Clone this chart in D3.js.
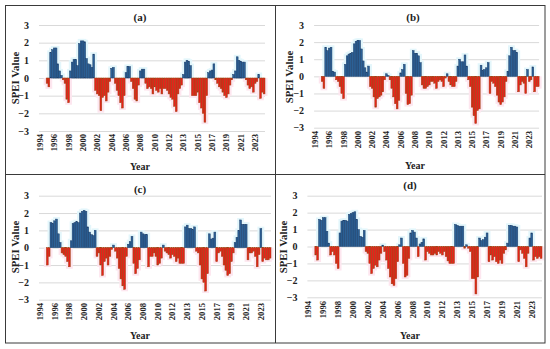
<!DOCTYPE html>
<html><head><meta charset="utf-8">
<script src="https://cdn.jsdelivr.net/npm/d3@7"></script>
<style>
html,body{margin:0;padding:0;background:#fff;}
svg{display:block;}
text{font-family:"Liberation Serif","Times New Roman",serif;font-weight:bold;fill:#222;}
</style></head>
<body>
<svg id="chart" width="550" height="349"></svg>
<script>
// ---- data (quarterly SPEI, first value at quarter index 4) ----
const nQuarters = 126;
const firstQuarter = 4;
const tickLabels = ["1994","1996","1998","2000","2002","2004","2006","2008","2010","2012","2013","2015","2017","2019","2021","2023"];
const tickStep = 8;
const yTicks = [3,2,1,0,-1,-2,-3];

const speiA = [-0.3,-0.5,1.45,1.6,1.7,1.7,0.8,0.4,0.15,-0.1,-0.3,-1.2,-1.4,0.4,0.9,1.05,1.05,0.7,1.95,2.1,2.1,2.05,1.1,0.8,0.75,0.6,1.35,
 -0.7,-0.9,-1.0,-1.85,-1.1,-1.0,-1.3,-0.8,-0.2,0.55,0.6,-0.3,-0.7,-1.0,-1.4,-1.7,-1.0,0.3,0.65,0.65,-0.2,-0.6,-1.2,-1.3,-0.4,0.4,0.5,0.5,
 -0.3,-0.6,-0.5,-0.6,-0.9,-0.5,-0.7,-0.8,-0.6,-0.9,-0.6,-0.6,-0.7,-0.9,-1.1,-1.2,-1.6,-1.9,-0.9,-0.6,-0.4,0.2,0.9,1.0,0.95,0.7,
 -1.0,-1.0,-1.0,-0.8,-1.4,-1.7,-2.0,-2.5,-1.0,0.3,0.4,0.45,0.8,-0.1,-0.3,-0.5,-0.6,-0.8,-1.0,-1.1,-0.9,-0.4,-0.1,0.2,0.4,1.2,1.0,0.95,0.9,0.9,
 -0.1,-0.4,-0.6,-0.5,-0.8,-0.3,-0.2,0.2,-1.15,-0.8,-0.9];
const speiB = [-0.3,-0.7,1.7,1.5,1.65,1.7,0.3,0.25,-0.2,-0.3,-0.6,-1.0,-1.3,0.7,1.2,1.3,1.35,1.4,1.9,2.05,2.1,2.1,1.6,0.9,0.5,0.25,0.6,
 -0.6,-0.7,-1.2,-1.8,-1.3,-1.2,-1.1,-0.9,-0.2,0.15,0.05,-0.2,-0.7,-1.2,-1.6,-1.9,-1.4,0.2,0.4,0.7,-1.0,-1.65,-1.6,-1.1,1.5,1.35,1.35,1.2,0.8,
 -0.5,-0.7,-0.7,-0.6,-0.5,-0.3,-0.3,-0.4,-0.7,-0.3,-0.2,-0.3,-0.6,-0.1,0.15,-0.3,-0.5,-0.6,-0.6,-0.3,0.6,1.0,0.85,0.85,1.25,0.6,
 -0.2,-0.6,-1.8,-2.3,-2.75,-2.0,-1.9,0.65,0.35,0.4,0.5,0.8,-1.0,-0.3,-0.4,-0.6,-1.1,-1.5,-1.65,-1.5,-1.2,-0.3,0.3,1.2,1.7,1.5,1.5,1.4,
 -0.9,-0.5,-0.3,-0.4,-1.0,0.4,-0.3,-0.2,0.55,-0.9,-0.6,-0.6];
const speiC = [-1.0,-0.5,1.45,1.4,1.55,1.65,0.8,0.3,-0.3,-0.4,-0.5,-0.8,-1.1,0.4,1.4,1.45,1.5,1.45,2.0,2.1,2.15,2.1,1.2,0.9,0.75,0.7,1.0,
 -0.5,-0.3,-1.0,-1.6,-0.8,-0.6,-1.0,-0.5,-0.1,0.15,-0.2,-0.6,-1.2,-1.8,-2.2,-2.4,-0.5,0.2,0.35,0.65,-0.9,-1.5,-1.2,-0.7,0.9,0.8,0.75,0.75,
 -1.1,-0.5,-0.5,-0.3,-0.5,-1.0,-0.9,-0.6,0.15,-0.2,-0.3,-0.4,-0.6,-0.4,-0.5,-0.8,-0.6,-0.9,-0.9,-0.9,1.2,1.3,1.1,1.1,1.05,1.2,
 -0.2,-0.3,-1.0,-1.8,-2.0,-2.5,-1.5,0.8,0.5,0.55,0.9,-0.8,-0.3,-0.2,-0.5,-1.0,-1.3,-1.6,-1.5,-0.8,-0.3,0.3,0.6,1.0,1.6,1.35,1.35,1.35,
 -0.7,-0.3,-0.3,-0.2,-0.5,-1.1,-0.4,1.1,-0.8,-0.6,-0.7,-0.7,-0.6];
const speiD = [-0.5,-0.8,1.6,1.55,1.7,1.7,0.9,0.2,-0.5,-0.3,-0.5,-1.0,-1.3,0.8,1.5,1.55,1.55,1.5,1.9,1.95,2.0,2.05,1.6,1.0,0.6,0.55,0.95,
 -0.3,-0.4,-1.0,-1.6,-1.3,-1.1,-1.2,-0.8,-0.4,0.08,-0.3,-0.8,-1.3,-1.8,-2.2,-2.3,-1.9,-0.9,0.1,0.5,-1.0,-1.8,-1.7,-0.7,0.8,0.95,0.85,0.5,
 -0.6,0.15,0.25,0.45,-0.8,-0.3,-0.4,-0.5,-0.5,-0.4,-0.5,-0.3,-0.4,-0.5,-0.3,-0.6,-0.85,-1.0,-1.0,-1.0,1.3,1.25,1.2,1.2,1.2,
 -0.1,0.1,-0.1,-0.3,-1.9,-1.9,-2.8,-1.8,0.5,0.35,0.4,0.55,0.8,-0.9,-0.5,-0.8,-0.6,-0.9,-1.0,-0.8,-1.0,-0.4,-0.2,0.2,1.25,1.25,1.2,1.2,1.15,
 -0.9,-0.2,-0.4,-0.7,-1.2,-0.4,0.5,0.8,-0.8,-0.6,-0.7,-0.6,-0.7];

// ---- layout ----
const panels = [
  {name:"(a)", values:speiA, l:39,    r:265,   t:25,    b:131,   title:[140,16.5], ylab:[15,78],  year:[140,166.5], xlab:134},
  {name:"(b)", values:speiB, l:314.1, r:539.1, t:25,    b:127.7, title:[413,16.5], ylab:[289,77], year:[415,165],   xlab:131},
  {name:"(c)", values:speiC, l:39,    r:271,   t:195.7, b:299.7, title:[140,189],  ylab:[15,247], year:[140,335.7], xlab:303},
  {name:"(d)", values:speiD, l:307.4, r:542,   t:195.7, b:297.3, title:[410,185],  ylab:[283,247],year:[410,335.7], xlab:301}
];

const svg = d3.select("#chart");
svg.append("rect").attr("width",550).attr("height",349).attr("fill","#fff");

panels.forEach(p => {
  const g = svg.append("g");
  const x = d3.scaleBand().domain(d3.range(nQuarters)).range([p.l, p.r]).padding(0);
  const y = d3.scaleLinear().domain([-3,3]).range([p.b, p.t]);
  const data = p.values.map((v,i) => ({q: i + firstQuarter, v}));

  // gridlines + y labels
  const yAxis = d3.axisLeft(y).tickValues(yTicks).tickSize(-(p.r - p.l)).tickPadding(10).tickFormat(d3.format("d"));
  const ya = g.append("g").attr("transform",`translate(${p.l},0)`).call(yAxis);
  ya.select(".domain").remove();
  ya.selectAll("line").attr("stroke","#d9d9d9").attr("stroke-width",1);
  ya.selectAll("text").attr("font-size",10).attr("fill","#222")
    .attr("font-family","'Liberation Serif',serif").attr("font-weight","bold").attr("x",-10);

  // soft halo (compression tint in the original)
  g.append("g").selectAll("rect").data(data).join("rect")
    .attr("x", d => x(d.q) - 2.5)
    .attr("width", x.bandwidth() + 5)
    .attr("y", d => d.v >= 0 ? y(d.v) - 2 : y(0))
    .attr("height", d => Math.abs(y(d.v) - y(0)) + 2)
    .attr("fill", d => d.v >= 0 ? "#e3f6fb" : "#fde6ef");

  // bars
  g.append("g").selectAll("rect").data(data).join("rect")
    .attr("x", d => x(d.q))
    .attr("width", x.bandwidth())
    .attr("y", d => d.v >= 0 ? y(d.v) : y(0))
    .attr("height", d => Math.abs(y(d.v) - y(0)))
    .attr("fill", d => d.v >= 0 ? "#2c6196" : "#e8201a")
    .attr("stroke", d => d.v >= 0 ? "#1d3f6b" : "#9a4412")
    .attr("stroke-width", 0.5);

  // x labels (rotated)
  const tickIdx = tickLabels.map((_,i) => i * tickStep);
  g.append("g").selectAll("text").data(tickIdx).join("text")
    .attr("transform", d => `translate(${x(d) + x.bandwidth()/2},${p.xlab}) rotate(-90)`)
    .attr("text-anchor","end").attr("dominant-baseline","central")
    .attr("font-size",8.6)
    .text(d => tickLabels[d / tickStep]);

  // titles
  g.append("text").attr("x",p.title[0]).attr("y",p.title[1]).attr("text-anchor","middle")
    .attr("dominant-baseline","central").attr("font-size",11).text(p.name);
  g.append("text").attr("transform",`translate(${p.ylab[0]},${p.ylab[1]}) rotate(-90)`)
    .attr("text-anchor","middle").attr("dominant-baseline","central").attr("font-size",10.8).text("SPEI Value");
  g.append("text").attr("x",p.year[0]).attr("y",p.year[1]).attr("text-anchor","middle")
    .attr("dominant-baseline","central").attr("font-size",10).text("Year");
});

// panel frames
const frame = svg.append("g").attr("fill","none").attr("stroke","#3a3a3a").attr("stroke-width",1);
frame.append("rect").attr("x",5.5).attr("y",5.5).attr("width",539.5).attr("height",337.5);
frame.append("line").attr("x1",275.5).attr("x2",275.5).attr("y1",5.5).attr("y2",343);
frame.append("line").attr("x1",5.5).attr("x2",545).attr("y1",174.5).attr("y2",174.5);
</script>
</body></html>
